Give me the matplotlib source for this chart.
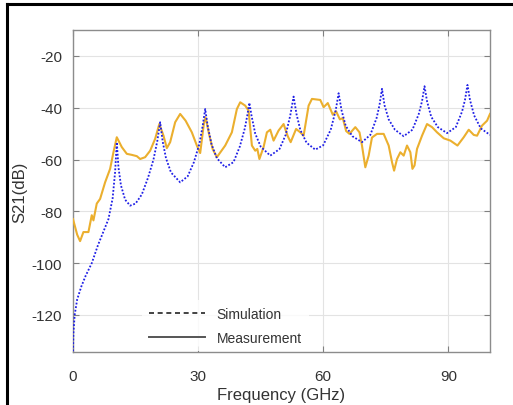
import matplotlib
matplotlib.use("Agg")
import matplotlib.pyplot as plt
from matplotlib.lines import Line2D

plt.rcParams['font.family'] = ['Liberation Sans', 'DejaVu Sans']
plt.rcParams['axes.unicode_minus'] = False

# simulation (blue dotted)
sim_f = [0, 0.1, 0.4, 1, 2, 3, 4.5, 6, 7.5, 8.5, 9.5, 10.1, 10.5, 10.9, 11.5, 12.5,
         13.7, 15, 16.5, 18, 19.3, 20.2, 20.9, 21.5, 22.3, 23.5, 25.7, 27.5, 29, 30.3,
         31.1, 31.7, 32.3, 33.2, 34.5, 36.5, 38.5, 40, 41.2, 41.8, 42.3, 42.8, 43.7, 45,
         47.3, 49.5, 51, 52.1, 52.9, 53.6, 54.5, 56, 58.1, 60, 61.8, 63, 63.7, 64.4, 65.4,
         67, 69.3, 71.3, 72.8, 73.5, 74.1, 74.7, 75.7, 77.2, 79.3, 81.4, 82.9, 83.7, 84.3,
         84.9, 85.9, 87.5, 89.7, 91.8, 93.3, 94, 94.6, 95.2, 96.2, 97.8, 100]
sim_db = [-134, -127, -120, -114, -109, -105, -100, -93, -87, -83, -75, -64.8, -53.3, -63,
          -70, -75.5, -77.8, -77, -73.5, -67, -60, -53, -45.6, -53, -59.5, -65, -68.8,
          -66.5, -61, -54, -47, -40.5, -47, -54, -59.5, -63, -61, -55, -48, -43, -38.1,
          -43, -50, -55, -58.5, -56, -50.5, -43, -35.7, -42.5, -48.5, -53.5, -56.2, -54.5,
          -48.5, -41, -34.4, -41, -47, -51, -53.3, -50.5, -44, -39, -32.7, -39, -44.5,
          -48.5, -51, -48.5, -42.5, -37.5, -31.7, -37.5, -43.5, -47.5, -49.8, -47.5, -41.5,
          -37, -31.2, -37, -43, -48, -50.5]

# measurement (orange solid)
meas_f = [0, 0.5, 1.0, 1.7, 2.5, 3.7, 4.5, 4.9, 5.7, 6.5, 7.7, 8.9, 9.7, 10.5, 11.7, 12.9,
          14.1, 15.3, 16.1, 17.3, 18.5, 19.7, 20.7, 21.7, 22.5, 23.3, 24.5, 25.7, 27, 28.5,
          29.7, 30.5, 31.4, 31.8, 32.6, 33.5, 34.5, 36.5, 38.1, 39.3, 40.1, 41.3, 42.1,
          42.9, 43.7, 44.2, 44.7, 45.7, 46.5, 47.3, 48.1, 49.3, 50.5, 51.5, 52.2, 53.5,
          54.5, 55.3, 56.5, 57.3, 59.3, 60.1, 61.1, 62.3, 63.1, 64.0, 64.7, 65.5, 66.3,
          67.7, 68.7, 69.3, 70.1, 70.9, 71.7, 72.9, 74.5, 75.7, 76.5, 77, 77.7, 78.5, 79.3,
          80.1, 80.9, 81.4, 81.9, 82.5, 83.7, 84.9, 86.1, 87.3, 88.9, 90.5, 92.2, 93.7,
          94.9, 96.1, 96.9, 98.1, 99.3, 100]
meas_db = [-83, -86, -89, -91.5, -88, -88, -81.5, -83.5, -77, -75.2, -68.8, -63.6, -57.2,
           -51.4, -55.2, -57.8, -58.2, -58.7, -59.8, -59.1, -56.6, -52, -46.3, -50.8, -55.6,
           -53.3, -45.6, -42.4, -45, -49.5, -54.6, -57.5, -46, -43.7, -50, -56, -59.1,
           -54.6, -49.5, -40.5, -37.9, -39.2, -41.1, -54.6, -56.6, -55.9, -59.8, -55.2,
           -49.5, -48.5, -52.7, -48.8, -46.3, -51, -53.3, -48.2, -49.5, -50.8, -39.2, -36.6,
           -37, -39.8, -38.2, -42.7, -41.4, -44.5, -44, -49, -50.1, -47.5, -49.5, -54.6,
           -63, -58.5, -51.5, -50.1, -50.1, -54.6, -61, -64.3, -59.8, -57.2, -58.5, -54.6,
           -57.2, -63.6, -62.3, -55.9, -50.8, -46.3, -47.5, -49.5, -51.8, -52.7, -54.6,
           -51.4, -48.5, -50.5, -50.8, -46.9, -45, -42.4]

x_ticks = [0, 30, 60, 90]
y_ticks = [-120, -100, -80, -60, -40, -20]

fig = plt.figure(figsize=(5.13, 4.06), dpi=100)
ax = fig.add_axes([73 / 513, 53 / 406, 417 / 513, 322 / 406])

ax.plot(meas_f, meas_db, color='#EBAF2E', lw=1.5, zorder=3)
ax.plot(sim_f, sim_db, color='#1f1fe6', lw=1.3, linestyle=(0, (1, 1)), zorder=4)

ax.set_xlim(0, 100)
ax.set_ylim(-134.3, -10)
ax.set_xticks(x_ticks)
ax.set_yticks(y_ticks)
ax.grid(True, color='#e3e3e3', lw=0.8)
ax.set_axisbelow(True)
ax.tick_params(direction='in', length=4, width=0.8, top=True, right=True,
               colors='#808080', labelcolor='#333333', labelsize=11)
ax.tick_params(axis='x', pad=12)
ax.tick_params(axis='y', pad=8)
for s in ax.spines.values():
    s.set_color('#8c8c8c')
    s.set_linewidth(1.0)

ax.set_xlabel('Frequency (GHz)', fontsize=12, color='#333333')
ax.set_ylabel('S21(dB)', fontsize=12, color='#333333')
ax.xaxis.set_label_coords(0.5, -43 / 322, transform=ax.transAxes)
ax.yaxis.set_label_coords(-53 / 417, 0.5, transform=ax.transAxes)
ax.xaxis.label.set_va('center')
ax.yaxis.label.set_va('center')

handles = [Line2D([], [], color='#222222', lw=1.2, linestyle=(0, (3, 2.2))),
           Line2D([], [], color='#555555', lw=1.4)]
leg = ax.legend(handles, ['Simulation', 'Measurement'], loc='lower left',
                bbox_to_anchor=(0.15, -0.02), fontsize=10, frameon=True,
                handlelength=4.0, handletextpad=0.85, labelspacing=0.7,
                borderpad=0.5, fancybox=False)
leg.get_frame().set_facecolor('white')
leg.get_frame().set_edgecolor('none')
for t in leg.get_texts():
    t.set_color('#333333')

# black frame on the left and top
fig.add_artist(Line2D([7 / 513, 7 / 513], [0, 1 - 5 / 406], color='black', lw=2.2))
fig.add_artist(Line2D([7 / 513, 1], [1 - 5 / 406, 1 - 5 / 406], color='black', lw=2.2))

fig.savefig('out.png', dpi=100)
